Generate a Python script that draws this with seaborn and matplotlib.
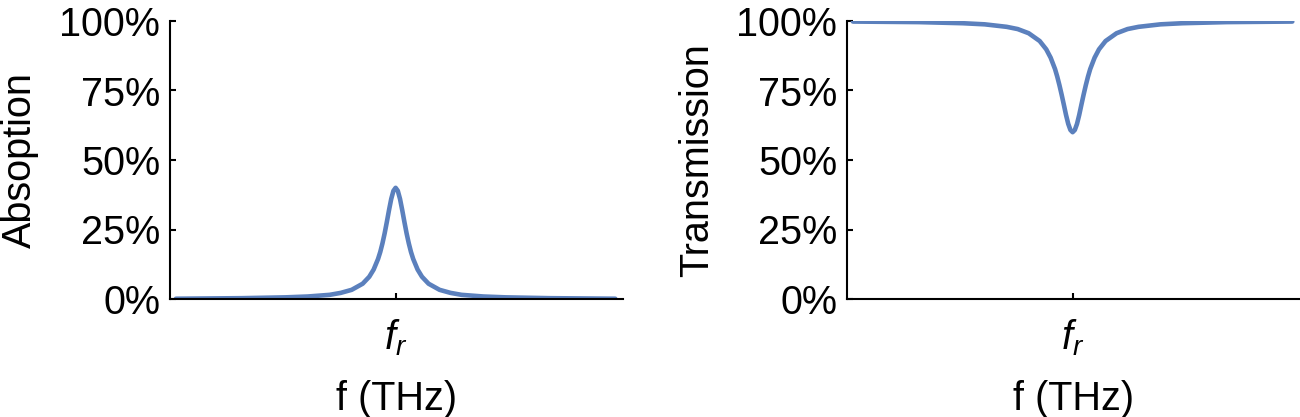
import matplotlib
matplotlib.use("Agg")
import matplotlib.pyplot as plt
import seaborn as sns
from matplotlib.ticker import FuncFormatter

# frequency offset from resonance (arbitrary units, fr = 0)
freq = [-1.0, -0.7, -0.5, -0.4, -0.3, -0.25, -0.2, -0.15, -0.12, -0.1,
        -0.08, -0.07, -0.06, -0.05, -0.04, -0.03, -0.02, -0.01, 0.0,
        0.01, 0.02, 0.03, 0.04, 0.05, 0.06, 0.07, 0.08, 0.1, 0.12,
        0.15, 0.2, 0.25, 0.3, 0.4, 0.5, 0.7, 1.0]

# absorption in %
absorption = [0.1, 0.3, 0.6, 0.9, 1.5, 2.2, 3.3, 5.5, 8.0, 10.6,
              14.4, 16.9, 20.0, 23.6, 27.7, 32.0, 36.0, 38.9, 40.0,
              38.9, 36.0, 32.0, 27.7, 23.6, 20.0, 16.9, 14.4, 10.6, 8.0,
              5.5, 3.3, 2.2, 1.5, 0.9, 0.6, 0.3, 0.1]

# transmission in %
transmission = [99.8, 99.6, 99.2, 98.8, 97.9, 97.1, 95.6, 92.8, 89.8, 86.8,
                82.7, 80.0, 76.9, 73.5, 69.9, 66.2, 63.0, 60.8, 60.0,
                60.8, 63.0, 66.2, 69.9, 73.5, 76.9, 80.0, 82.7, 86.8, 89.8,
                92.8, 95.6, 97.1, 97.9, 98.8, 99.2, 99.6, 99.8]

y_ticks = [0, 25, 50, 75, 100]
x_tick_label = "$f_r$"
x_label = "f (THz)"
panel_labels = ["Absoption", "Transmission"]

LINE_COLOR = "#5b80bd"
FONT_SIZE = 28.5

sns.set_style("ticks")
plt.rcParams["font.family"] = ["Liberation Sans", "DejaVu Sans"]
plt.rcParams["text.color"] = "black"
plt.rcParams["axes.labelcolor"] = "black"
plt.rcParams["mathtext.fontset"] = "custom"
plt.rcParams["mathtext.rm"] = "Liberation Sans"
plt.rcParams["mathtext.it"] = "Liberation Sans:italic"

fig = plt.figure(figsize=(13, 4.17), dpi=100)
W, H = 1300, 417
ax_left = fig.add_axes([170 / W, (H - 299) / H, 453 / W, 278 / H])
ax_right = fig.add_axes([847 / W, (H - 299) / H, 453 / W, 278 / H])

for ax, values, label in [(ax_left, absorption, panel_labels[0]),
                          (ax_right, transmission, panel_labels[1])]:
    sns.lineplot(x=freq, y=values, ax=ax, color=LINE_COLOR, linewidth=3.3)
    ax.set_xlim(-1.027, 1.035)
    ax.set_ylim(0, 100)
    ax.set_yticks(y_ticks)
    ax.yaxis.set_major_formatter(FuncFormatter(lambda v, p: f"{v:.0f}%"))
    ax.set_xticks([0])
    ax.set_xticklabels([x_tick_label])
    sns.despine(ax=ax)
    for side in ["left", "bottom"]:
        ax.spines[side].set_linewidth(1.5)
        ax.spines[side].set_color("black")
    ax.tick_params(direction="in", length=4, width=1.5, colors="black",
                   labelsize=FONT_SIZE, pad=7)
    ax.tick_params(axis="x", pad=13)
    ax.set_ylabel(label, fontsize=FONT_SIZE, color="black")
    ax.set_xlabel(x_label, fontsize=FONT_SIZE, color="black")
    ax.yaxis.set_label_coords(-0.29, 0.5)
    ax.xaxis.set_label_coords(0.5, -0.29)
    ax.patch.set_visible(False)

fig.savefig("out.png", dpi=100)
